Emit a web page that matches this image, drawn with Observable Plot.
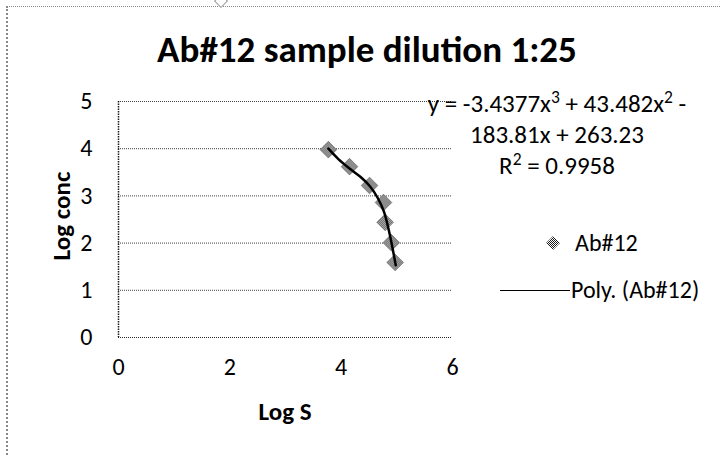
<!DOCTYPE html>
<html>
<head>
<meta charset="utf-8">
<script src="https://cdn.jsdelivr.net/npm/d3@7"></script>
<script src="https://cdn.jsdelivr.net/npm/@observablehq/plot@0.6"></script>
<style>
  html, body { margin: 0; padding: 0; background: #fff; }
  #wrap { position: relative; width: 720px; height: 457px; overflow: hidden;
          font-family: Carlito, Calibri, Lato, "Open Sans", sans-serif; color: #000; }
  #frame { position: absolute; left: 6px; top: 6px; width: 720px; height: 460px;
           border-top: 1px dotted #888; border-left: 2px dotted #888; }
  #handle { position: absolute; left: 216px; top: -4px; width: 8px; height: 8px;
            border: 1px solid #999; transform: rotate(45deg); background: #fff; }
  .abs { position: absolute; white-space: nowrap; line-height: 1; }
  sup { font-size: 0.7em; vertical-align: 0.5em; line-height: 0; }
  svg.chart { position: absolute; left: 0; top: 0; }
</style>
</head>
<body>
<div id="wrap">
  <div id="frame"></div>
  <div id="handle"></div>
</div>
<script>
// Data
const logS    = [3.77, 4.15, 4.51, 4.76, 4.79, 4.90, 4.97];
const logConc = [3.98, 3.62, 3.22, 2.86, 2.44, 2.01, 1.59];
// Polynomial trendline as drawn in the picture
const trendS    = [3.77, 3.95, 4.15, 4.35, 4.52, 4.66, 4.77, 4.86, 4.93, 4.98];
const trendConc = [4.00, 3.78, 3.58, 3.40, 3.20, 2.95, 2.66, 2.25, 1.85, 1.53];
const xTicks = [0, 2, 4, 6];
const yTicks = [0, 1, 2, 3, 4, 5];
const titleText = "Ab#12 sample dilution 1:25";
const eqLines = ["y = -3.4377x<sup>3</sup> + 43.482x<sup>2</sup> -", "183.81x + 263.23", "R<sup>2</sup> = 0.9958"];
const seriesName = "Ab#12";
const trendName = "Poly. (Ab#12)";
const xLabel = "Log S";
const yLabel = "Log conc";

const points = logS.map((s, i) => ({s, c: logConc[i]}));
const trend = trendS.map((s, i) => ({s, c: trendConc[i]}));

const fontFam = 'Carlito, Calibri, Lato, "Open Sans", sans-serif';

const chart = Plot.plot({
  className: "chart",
  width: 720,
  height: 457,
  marginLeft: 118,
  marginRight: 268,
  marginTop: 101,
  marginBottom: 120,
  style: { fontFamily: fontFam, fontSize: "24px", background: "transparent", color: "#000" },
  x: { domain: [0, 6], label: null },
  y: { domain: [0, 5], label: null },
  marks: [
    () => {
      const ns = "http://www.w3.org/2000/svg";
      const g = document.createElementNS(ns, "defs");
      g.innerHTML = '<pattern id="chk" width="2" height="2" patternUnits="userSpaceOnUse">' +
        '<rect width="2" height="2" fill="#fff"/><rect width="1" height="1" fill="#1a1a1a"/>' +
        '<rect x="1" y="1" width="1" height="1" fill="#1a1a1a"/></pattern>';
      return g;
    },
    Plot.gridY(yTicks.filter(d => d > 0), { stroke: "#000", strokeOpacity: 0.75, strokeDasharray: "1,1" }),
    Plot.ruleY([0], { stroke: "#000", strokeOpacity: 0.85, strokeDasharray: "1,1" }),
    Plot.ruleX([0], { stroke: "#000", strokeOpacity: 0.9, strokeWidth: 1.5, strokeDasharray: "1.5,1" }),
    Plot.axisX({ ticks: xTicks, tickFormat: d => String(d), tickSize: 0, tickPadding: 20, fontSize: 24, label: null }),
    Plot.axisY({ ticks: yTicks, tickFormat: d => String(d), tickSize: 0, tickPadding: 26, fontSize: 24, label: null }),
    Plot.dot(points, { x: "s", y: "c", symbol: "diamond2", r: 7.5, fill: "url(#chk)", stroke: "#555", strokeWidth: 0.6 }),
    Plot.line(trend, { x: "s", y: "c", curve: "catmull-rom", stroke: "#000", strokeWidth: 2.5 })
  ]
});

const wrap = document.getElementById("wrap");
wrap.appendChild(chart);

function addCentered(html, cx, cy, style, rotate) {
  const d = document.createElement("div");
  d.className = "abs";
  d.innerHTML = html;
  Object.assign(d.style, style || {});
  d.style.left = cx + "px";
  d.style.top = cy + "px";
  d.style.transform = "translate(-50%, -50%)" + (rotate ? " rotate(-90deg)" : "");
  wrap.appendChild(d);
  return d;
}
function addLeft(html, x, cy, style) {
  const d = document.createElement("div");
  d.className = "abs";
  d.innerHTML = html;
  Object.assign(d.style, style || {});
  d.style.left = x + "px";
  d.style.top = cy + "px";
  d.style.transform = "translate(0, -50%)";
  wrap.appendChild(d);
  return d;
}

addCentered(titleText, 367, 49, { fontSize: "37px", fontWeight: "bold" });
[103, 134, 165].forEach((cy, i) => addCentered(eqLines[i], 557, cy, { fontSize: "25px" }));
addCentered(yLabel, 61, 216, { fontSize: "25px", fontWeight: "bold" }, true);
addCentered(xLabel, 285, 411, { fontSize: "25px", fontWeight: "bold" });

// Legend
const legSvg = `<svg width="20" height="20" style="display:block">
  <defs><pattern id="chk2" width="2" height="2" patternUnits="userSpaceOnUse">
  <rect width="2" height="2" fill="#fff"/><rect width="1" height="1" fill="#1a1a1a"/>
  <rect x="1" y="1" width="1" height="1" fill="#1a1a1a"/></pattern></defs>
  <path d="M10 3 L17 10 L10 17 L3 10 Z" fill="url(#chk2)"/></svg>`;
addCentered(legSvg, 553, 243);
addLeft(seriesName, 575, 243, { fontSize: "24px" });
const ln = document.createElement("div");
ln.className = "abs";
Object.assign(ln.style, { left: "500px", top: "290px", width: "70px", height: "0", borderTop: "1.5px solid #000" });
wrap.appendChild(ln);
addLeft(trendName, 571, 290, { fontSize: "24px" });
</script>
</body>
</html>
